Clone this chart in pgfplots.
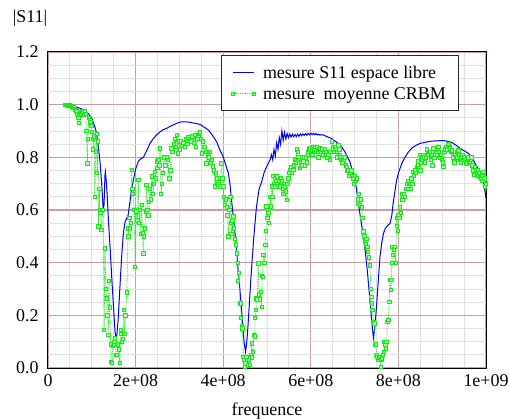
\documentclass[border=0pt]{standalone}
\usepackage{fontspec}
\setmainfont{Liberation Serif}
\usepackage{pgfplots}
\pgfplotsset{compat=1.18}
\definecolor{majgrid}{RGB}{198,160,160}
\definecolor{mingrid}{RGB}{224,224,224}
\definecolor{limeg}{RGB}{20,235,20}
\begin{document}
\begin{tikzpicture}[font=\fontsize{18}{21}\selectfont]
\useasboundingbox (-48bp,-52bp) rectangle (461bp,368bp);
\begin{axis}[
 at={(0,0)}, anchor=south west,
 scale only axis, width=438bp, height=316bp,
 xmin=0, xmax=1000, ymin=0, ymax=1.2,
 xtick={0,200,400,600,800,1000},
 xticklabels={0,2e+08,4e+08,6e+08,8e+08,1e+09},
 ytick={0,0.2,0.4,0.6,0.8,1.0,1.2},
 yticklabels={0.0,0.2,0.4,0.6,0.8,1.0,1.2},
 minor x tick num=3, minor y tick num=3,
 grid=both,
 major grid style={majgrid, line width=1.2bp},
 minor grid style={mingrid, line width=0.9bp},
 major tick length=0pt, minor tick length=0pt,
 axis line style={black, line width=1bp},
 xticklabel style={yshift=-3.5bp},
 yticklabel style={xshift=-6bp},
 xlabel={frequence},
 xlabel style={at={(axis description cs:0.5,-0.149)}, anchor=base},
 ylabel={|S11|},
 ylabel style={rotate=-90, at={(axis description cs:-0.041,1.093)}, anchor=base},
 legend style={at={(axis description cs:0.938,0.99)}, anchor=north east, draw=black!85, line width=1.1bp, fill=white, inner xsep=10bp, inner ysep=7.5bp, row sep=2.5bp, nodes={inner sep=2.5bp}, /tikz/every odd column/.append style={column sep=5bp}},
 legend cell align=left,
 legend image code/.code={\draw[#1] plot coordinates {(0bp,0bp) (21bp,0bp)};},
]
\addplot[blue, line width=1bp, mark=none] coordinates {
(39,0.998) (50,0.996) (60,0.992) (66,0.99) (75,0.985) (82,0.98) (88,0.973) (94,0.962) (100,0.948) (104,0.93) (107,0.916) (111,0.89) (115,0.84) (119,0.78) (123,0.69) (126,0.60) (128,0.62) (130,0.73) (131,0.745) (133,0.71) (135,0.66) (138,0.56) (142,0.45) (146,0.33) (150,0.22) (153,0.14) (155,0.115) (157,0.12) (160,0.18) (164,0.30) (168,0.42) (172,0.51) (176,0.555) (180,0.57) (183,0.58) (187,0.63) (191,0.68) (195,0.714) (200,0.755) (206,0.784) (212,0.795) (218,0.80) (225,0.825) (233,0.853) (240,0.87) (248,0.885) (256,0.897) (263,0.905) (271,0.91) (278,0.917) (286,0.923) (295,0.93) (305,0.935) (315,0.935) (324,0.933) (336,0.929) (347,0.925) (356,0.915) (366,0.904) (375,0.885) (385,0.859) (392,0.83) (400,0.802) (406,0.77) (412,0.739) (416,0.69) (419,0.638) (423,0.575) (427,0.511) (431,0.44) (434,0.372) (438,0.30) (442,0.22) (445,0.15) (448,0.094) (451,0.062) (454,0.10) (457,0.17) (461,0.28) (465,0.385) (470,0.50) (476,0.613) (482,0.68) (488,0.708) (493,0.74) (499,0.764) (503,0.777) (507,0.79) (510,0.81) (513,0.79) (516,0.83) (519,0.805) (522,0.855) (525,0.83) (528,0.875) (531,0.85) (534,0.90) (537,0.865) (540,0.895) (543,0.87) (546,0.89) (549,0.875) (552,0.888) (555,0.877) (558,0.888) (561,0.878) (564,0.887) (567,0.879) (570,0.888) (573,0.88) (576,0.889) (579,0.882) (582,0.889) (585,0.883) (588,0.890) (591,0.884) (594,0.891) (597,0.885) (600,0.892) (603,0.886) (606,0.891) (609,0.886) (612,0.89) (615,0.885) (618,0.888) (621,0.884) (624,0.886) (628,0.885) (635,0.88) (642,0.875) (648,0.872) (655,0.862) (663,0.853) (670,0.84) (678,0.821) (684,0.80) (689,0.784) (695,0.75) (701,0.714) (706,0.66) (712,0.587) (718,0.52) (724,0.448) (729,0.37) (735,0.258) (739,0.18) (743,0.113) (746,0.15) (750,0.233) (754,0.33) (758,0.423) (762,0.475) (766,0.511) (770,0.53) (775,0.54) (781,0.549) (785,0.58) (788,0.625) (792,0.67) (796,0.714) (802,0.75) (808,0.777) (815,0.80) (823,0.821) (832,0.837) (842,0.847) (850,0.853) (861,0.857) (870,0.86) (880,0.862) (893,0.863) (906,0.863) (915,0.86) (922,0.856) (930,0.848) (941,0.834) (950,0.825) (960,0.815) (968,0.80) (975,0.777) (983,0.755) (991,0.726) (996,0.69) (1000,0.645)
};
\addlegendentry{mesure S11 espace libre}
\addplot[limeg, densely dotted, line width=0.8bp, mark=square*, mark size=1.7bp, mark options={solid, fill=limeg!35, draw=limeg, line width=0.8bp}] coordinates {
(39,1.0) (41,1.0) (43,0.998) (45,0.999) (47,0.997) (49,0.998) (51,0.995) (53,0.996) (55,0.993) (57,0.99) (59,0.992) (61,0.985) (63,0.98) (65,0.975) (67,0.965) (69,0.95) (70,0.93) (72,0.96) (74,0.97) (76,0.965) (78,0.975) (80,0.97) (82,0.96) (84,0.975) (86,0.965) (88,0.90) (90,0.777) (91,0.87) (93,0.95) (95,0.94) (97,0.935) (99,0.92) (100,0.897) (102,0.87) (103,0.83) (105,0.88) (107,0.65) (109,0.82) (111,0.89) (112,0.74) (114,0.86) (115,0.537) (117,0.68) (118,0.60) (120,0.59) (122,0.524) (124,0.60) (126,0.60) (128,0.144) (130,0.454) (132,0.30) (134,0.264) (136,0.20) (138,0.125) (139,0.33) (141,0.23) (143,0.09) (144,0.024) (146,0.02) (148,0.085) (150,0.09) (152,0.10) (153,0.113) (155,0.05) (157,0.05) (159,0.09) (160,0.09) (162,0.07) (164,0.02) (166,0.13) (167,0.144) (169,0.10) (171,0.11) (173,0.22) (175,0.13) (177,0.20) (180,0.287) (183,0.53) (184,0.50) (186,0.57) (187,0.53) (189,0.55) (191,0.752) (193,0.68) (194,0.66) (197,0.60) (199,0.385) (202,0.594) (204,0.56) (206,0.714) (208,0.55) (210,0.60) (212,0.51) (214,0.62) (216,0.511) (218,0.435) (219,0.50) (221,0.53) (223,0.593) (225,0.695) (227,0.60) (229,0.58) (231,0.63) (233,0.68) (235,0.64) (237,0.727) (239,0.70) (240,0.66) (242,0.70) (244,0.745) (246,0.72) (248,0.784) (250,0.76) (252,0.79) (254,0.77) (256,0.834) (258,0.66) (260,0.70) (263,0.74) (265,0.80) (268,0.77) (271,0.80) (274,0.79) (277,0.72) (279,0.75) (282,0.834) (284,0.82) (287,0.85) (290,0.87) (292,0.84) (294,0.885) (296,0.815) (299,0.86) (301,0.83) (304,0.86) (306,0.845) (309,0.855) (312,0.84) (315,0.87) (318,0.85) (321,0.875) (324,0.87) (327,0.86) (330,0.88) (333,0.855) (336,0.885) (338,0.84) (341,0.87) (344,0.89) (347,0.894) (349,0.87) (351,0.815) (354,0.86) (357,0.84) (360,0.82) (362,0.777) (365,0.81) (367,0.80) (369,0.82) (372,0.78) (374,0.79) (377,0.765) (379,0.75) (381,0.69) (383,0.74) (385,0.72) (387,0.70) (389,0.70) (392,0.72) (394,0.69) (396,0.777) (398,0.72) (400,0.69) (402,0.65) (404,0.62) (406,0.64) (408,0.61) (410,0.58) (412,0.50) (414,0.60) (416,0.65) (418,0.55) (419,0.51) (421,0.56) (423,0.575) (425,0.53) (427,0.49) (429,0.47) (431,0.435) (433,0.40) (434,0.33) (436,0.36) (438,0.245) (440,0.245) (441,0.19) (443,0.16) (444,0.15) (446,0.043) (448,0.03) (450,0.005) (451,0.018) (453,0.043) (455,0.03) (457,0.01) (459,0.03) (461,0.011) (463,0.05) (465,0.094) (466,0.04) (468,0.06) (470,0.125) (472,0.12) (473,0.19) (475,0.22) (476,0.264) (478,0.26) (480,0.397) (482,0.28) (484,0.26) (486,0.29) (488,0.233) (489,0.35) (490,0.347) (492,0.43) (494,0.40) (496,0.467) (498,0.52) (499,0.613) (501,0.57) (503,0.59) (505,0.55) (507,0.65) (509,0.613) (511,0.69) (512,0.65) (514,0.73) (516,0.70) (518,0.69) (520,0.71) (522,0.727) (524,0.70) (526,0.69) (528,0.71) (530,0.69) (532,0.72) (534,0.71) (536,0.68) (537,0.66) (539,0.70) (541,0.69) (543,0.67) (545,0.638) (547,0.70) (549,0.72) (551,0.74) (553,0.752) (555,0.764) (557,0.74) (560,0.752) (562,0.77) (564,0.79) (566,0.78) (568,0.83) (570,0.82) (572,0.80) (574,0.79) (575,0.76) (577,0.78) (579,0.77) (581,0.80) (583,0.784) (585,0.80) (587,0.77) (589,0.80) (591,0.78) (593,0.82) (594,0.81) (596,0.83) (598,0.834) (600,0.82) (602,0.826) (604,0.81) (606,0.84) (608,0.83) (610,0.84) (612,0.82) (614,0.84) (616,0.82) (617,0.80) (619,0.83) (621,0.834) (623,0.82) (625,0.83) (628,0.81) (630,0.82) (632,0.83) (635,0.82) (637,0.80) (640,0.81) (643,0.79) (645,0.82) (648,0.86) (650,0.83) (651,0.834) (653,0.82) (655,0.84) (657,0.83) (659,0.82) (661,0.80) (663,0.846) (665,0.83) (666,0.81) (668,0.80) (670,0.79) (672,0.78) (674,0.80) (676,0.79) (678,0.80) (680,0.77) (682,0.764) (684,0.75) (686,0.75) (688,0.73) (690,0.74) (693,0.75) (695,0.73) (697,0.72) (699,0.70) (701,0.73) (703,0.71) (705,0.72) (707,0.64) (708,0.625) (710,0.66) (712,0.62) (714,0.64) (716,0.61) (718,0.57) (720,0.518) (722,0.50) (724,0.48) (726,0.47) (727,0.49) (729,0.46) (731,0.44) (733,0.42) (735,0.39) (737,0.30) (738,0.27) (739,0.245) (741,0.22) (743,0.176) (745,0.17) (747,0.087) (749,0.09) (750,0.05) (752,0.043) (754,0.03) (756,0.04) (758,0.043) (760,0.005) (761,0.03) (763,0.036) (765,0.05) (767,0.06) (768,0.10) (770,0.09) (771,0.075) (773,0.10) (775,0.176) (777,0.182) (779,0.25) (781,0.334) (783,0.296) (784,0.334) (785,0.40) (786,0.46) (788,0.43) (790,0.45) (792,0.46) (794,0.40) (796,0.57) (797,0.54) (799,0.52) (800,0.58) (802,0.57) (804,0.61) (806,0.59) (808,0.66) (809,0.64) (811,0.65) (813,0.66) (815,0.65) (817,0.68) (819,0.70) (821,0.68) (822,0.71) (824,0.70) (826,0.70) (828,0.68) (830,0.72) (832,0.70) (834,0.745) (836,0.73) (838,0.75) (840,0.74) (842,0.764) (844,0.77) (845,0.784) (847,0.76) (849,0.81) (850,0.75) (852,0.78) (853,0.80) (855,0.79) (857,0.81) (859,0.80) (861,0.78) (863,0.80) (865,0.83) (867,0.81) (869,0.82) (872,0.82) (874,0.79) (876,0.81) (878,0.77) (880,0.834) (882,0.80) (884,0.81) (886,0.82) (888,0.81) (890,0.83) (891,0.84) (893,0.82) (895,0.80) (897,0.81) (899,0.79) (901,0.78) (903,0.764) (905,0.82) (907,0.83) (910,0.84) (912,0.83) (914,0.85) (916,0.84) (918,0.834) (920,0.82) (922,0.826) (924,0.81) (926,0.80) (928,0.78) (929,0.81) (931,0.80) (933,0.82) (935,0.80) (937,0.826) (939,0.81) (941,0.79) (943,0.78) (944,0.80) (946,0.81) (948,0.79) (950,0.80) (952,0.79) (954,0.78) (956,0.777) (958,0.79) (960,0.80) (962,0.78) (963,0.784) (965,0.79) (967,0.80) (969,0.77) (971,0.75) (972,0.733) (974,0.76) (975,0.764) (977,0.75) (979,0.74) (981,0.73) (982,0.75) (984,0.74) (986,0.726) (988,0.72) (990,0.71) (992,0.73) (994,0.745) (996,0.72) (998,0.69) (1000,0.70)
};
\addlegendentry{mesure\ \ moyenne CRBM}
\end{axis}
\end{tikzpicture}
\end{document}
